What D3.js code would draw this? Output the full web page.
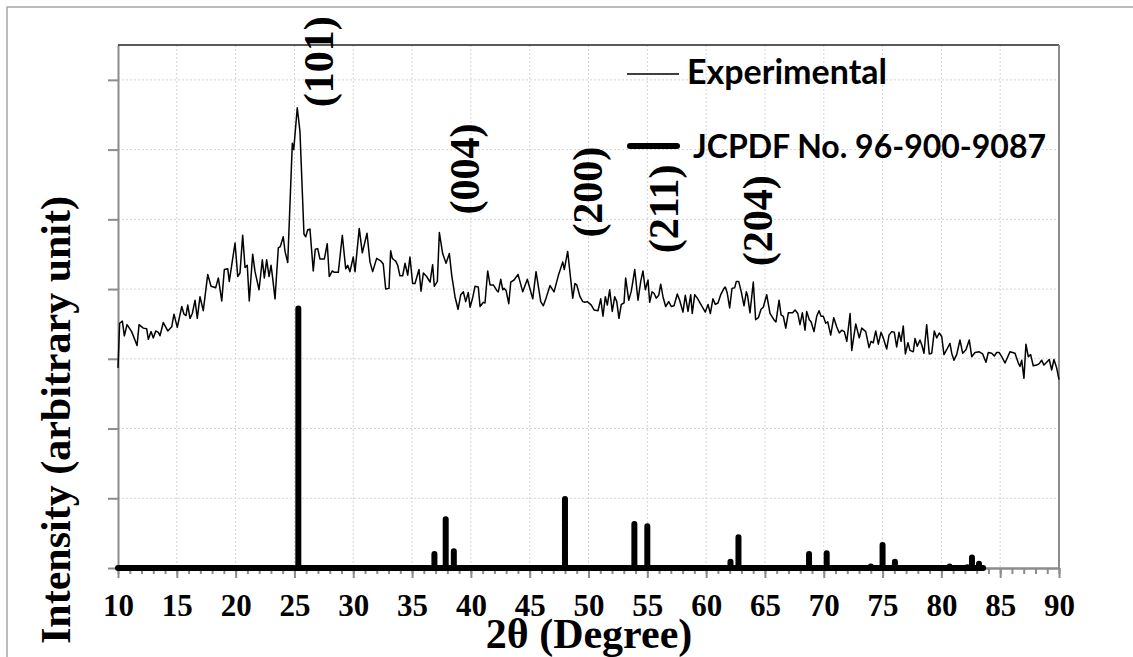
<!DOCTYPE html>
<html lang="en">
<head>
  <meta charset="UTF-8">
  <title>XRD pattern</title>
  <script src="https://d3js.org/d3.v7.min.js"></script>
  <style>
    body { margin: 0; background: #fff; }
    .grid line { stroke: #d4d4d4; stroke-width: 1; stroke-dasharray: 2,2; }
    .axis path, .axis line { stroke: #8c8c8c; stroke-width: 2; }
  </style>
</head>
<body>
  <svg width="1133" height="657"></svg>

  <script>
    // experimental pattern, [2θ, intensity]
    const experimental = [
      [10.00,2.87],[10.14,3.51],[10.37,3.54],[10.54,3.33],[10.77,3.49],[11.16,3.39],[11.62,3.19],[11.79,3.49],[12.15,3.44],[12.44,3.43],[12.58,3.28],[12.81,3.39],[13.00,3.30],[13.21,3.40],[13.43,3.38],[13.57,3.33],[13.85,3.52],[14.23,3.40],[14.57,3.46],[14.76,3.64],[15.04,3.45],[15.42,3.75],[15.61,3.64],[15.78,3.62],[15.93,3.77],[16.12,3.58],[16.32,3.65],[16.55,3.84],[16.74,3.58],[16.97,3.89],[17.25,3.69],[17.63,4.21],[17.91,4.04],[18.31,4.02],[18.53,4.16],[18.82,3.83],[19.04,4.28],[19.33,4.29],[19.46,4.11],[19.95,4.66],[20.18,4.18],[20.37,4.23],[20.60,4.77],[20.80,4.31],[20.99,4.34],[21.16,3.83],[21.45,4.50],[21.65,4.25],[21.99,3.99],[22.27,4.42],[22.44,4.16],[22.64,4.42],[22.84,4.18],[23.01,4.34],[23.12,4.20],[23.35,3.86],
      [23.63,4.59],[23.80,4.61],[24.05,4.75],[24.20,4.54],[24.43,4.38],[24.82,6.09],[24.94,6.00],[25.24,6.60],[25.47,6.26],[25.81,4.79],[25.96,4.75],[26.13,4.85],[26.32,4.86],[26.60,4.26],[26.77,4.57],[26.98,4.58],[27.17,4.43],[27.54,4.43],[27.79,4.65],[27.96,4.18],[28.22,4.26],[28.39,4.24],[28.73,4.24],[29.07,4.77],[29.36,4.29],[29.53,4.34],[29.72,4.25],[30.00,4.46],[30.15,4.25],[30.51,4.87],[30.77,4.52],[31.17,4.80],[31.42,4.39],[31.65,4.25],[31.99,4.44],[32.36,4.40],[32.55,4.36],[32.76,4.00],[33.04,4.01],[33.18,4.55],[33.32,4.44],[33.46,4.42],[33.61,4.40],[33.78,4.34],[33.97,4.19],[34.20,4.19],[34.40,4.37],[34.63,4.20],[34.82,4.46],[35.05,4.08],[35.25,4.08],[35.59,4.28],[35.76,3.97],[35.96,4.23],[36.24,4.18],[36.53,4.10],[36.75,4.35],[36.89,4.04],
      [37.15,4.11],[37.32,4.81],[37.60,4.51],[37.89,4.37],[38.17,4.51],[38.37,4.20],[38.65,3.89],[38.91,3.71],[39.14,3.92],[39.36,3.96],[39.56,3.82],[39.78,3.95],[39.93,3.74],[40.16,3.88],[40.35,4.04],[40.63,4.03],[40.78,3.75],[41.06,3.81],[41.20,3.80],[41.43,4.26],[41.63,4.06],[41.91,4.06],[42.20,3.98],[42.33,3.96],[42.54,4.14],[42.71,3.99],[42.82,4.01],[42.99,3.98],[43.22,3.79],[43.39,4.10],[43.67,4.13],[44.01,4.21],[44.41,3.96],[44.80,4.14],[45.26,3.86],[45.54,4.25],[45.94,3.82],[46.16,3.76],[46.39,3.87],[46.73,4.05],[47.07,3.96],[47.43,4.19],[47.81,4.39],[47.94,4.28],[48.23,4.54],[48.66,3.87],[48.85,4.08],[49.00,4.06],[49.28,3.89],[49.51,3.82],[49.70,3.81],[49.90,3.82],
      [50.24,3.77],[50.47,3.70],[50.81,3.69],[51.04,3.86],[51.23,3.61],[51.43,3.89],[51.60,3.77],[51.80,3.99],[52.02,3.68],[52.23,3.89],[52.40,3.82],[52.59,3.58],[52.79,3.78],[53.02,3.80],[53.16,4.16],[53.42,3.84],[53.64,3.97],[53.93,4.28],[54.21,3.84],[54.44,4.11],[54.63,4.26],[54.83,3.99],[55.06,4.13],[55.20,3.81],[55.40,3.96],[55.57,3.94],[55.76,3.87],[55.97,3.91],[56.14,4.07],[56.33,3.89],[56.56,3.75],[56.82,3.82],[57.04,3.75],[57.27,3.76],[57.55,3.93],[57.75,3.84],[58.03,3.67],[58.23,3.91],[58.46,3.68],[58.69,3.92],[58.82,3.65],[59.03,3.92],[59.25,3.87],[59.59,3.77],[59.93,3.67],[60.16,3.78],[60.36,3.65],[60.58,3.86],[60.78,3.78],[61.01,3.80],[61.24,3.92],[61.52,4.01],[61.63,4.03],[61.80,3.94],[62.00,3.73],[62.20,4.01],[62.43,4.02],[62.57,4.11],[62.77,4.11],[62.99,3.96],[63.22,3.76],[63.42,3.96],
      [63.53,3.90],[63.73,3.66],[64.01,4.10],[64.21,3.56],[64.44,3.59],[64.67,3.71],[64.86,3.74],[65.15,3.92],[65.43,3.65],[65.80,3.55],[65.94,3.53],[66.20,3.84],[66.37,3.63],[66.56,3.61],[66.77,3.44],[66.99,3.66],[67.36,3.66],[67.56,3.70],[67.79,3.65],[67.98,3.49],[68.18,3.66],[68.41,3.41],[68.55,3.68],[68.77,3.56],[68.92,3.53],[69.17,3.39],[69.40,3.61],[69.60,3.69],[69.77,3.61],[69.96,3.61],[70.17,3.51],[70.34,3.53],[70.59,3.34],[70.85,3.59],[71.10,3.46],[71.32,3.37],[71.53,3.41],[71.75,3.39],[71.96,3.25],[72.24,3.65],[72.38,3.12],[72.72,3.50],[73.02,3.30],[73.23,3.44],[73.57,3.39],[73.85,3.16],[74.02,3.25],[74.21,3.23],[74.42,3.40],[74.64,3.21],[74.87,3.38],[75.06,3.30],[75.35,3.14],[75.55,3.34],[75.78,3.39],[76.00,3.38],[76.20,3.17],[76.40,3.38],[76.57,3.25],[76.76,3.47],
      [76.94,3.07],[77.16,3.23],[77.33,3.12],[77.61,3.10],[77.76,3.29],[77.95,3.18],[78.18,3.27],[78.35,3.19],[78.52,3.08],[78.75,3.49],[78.97,3.07],[79.18,3.08],[79.40,3.40],[79.60,3.30],[79.82,3.37],[80.03,3.32],[80.22,3.06],[80.45,3.13],[80.73,3.22],[80.88,3.08],[81.07,2.98],[81.30,3.06],[81.58,3.27],[81.81,3.08],[82.09,3.13],[82.37,3.27],[82.58,3.03],[82.86,3.09],[83.22,3.10],[83.51,3.07],[83.79,2.95],[83.99,3.09],[84.28,3.08],[84.50,3.04],[84.70,3.09],[84.92,3.09],[85.13,3.03],[85.41,2.94],[85.83,3.10],[86.26,3.08],[86.54,2.94],[86.68,2.89],[86.83,2.98],[87.02,2.72],[87.19,3.21],[87.39,3.03],[87.59,3.06],[87.81,2.90],[88.10,2.91],[88.32,2.93],[88.53,2.98],[88.72,2.91],[88.95,2.95],[89.17,2.99],[89.38,2.84],[89.57,2.99],[89.80,2.87],[90.00,2.70]
    ];

    // JCPDF reference sticks
    const refTheta = [25.33, 36.9, 37.86, 38.55, 48.0, 53.9, 55.0, 62.07, 62.75, 68.75, 70.25, 74.0, 75.0, 76.05, 80.7, 82.2, 82.6, 83.2];
    const refIntensity = [3.72, 0.20, 0.70, 0.24, 0.99, 0.63, 0.60, 0.09, 0.44, 0.20, 0.21, 0.02, 0.33, 0.09, 0.02, 0.01, 0.15, 0.06];
    const refRange = [10, 83.55];

    const peakLabels = ['(101)', '(004)', '(200)', '(211)', '(204)'];
    const labelPos = [[28.28, 7.26], [40.69, 5.72], [51.15, 5.39], [57.61, 5.15], [65.6, 4.98]];

    const xTicks = d3.range(10, 91, 5);
    const xMinor = d3.range(10, 91, 1);
    const yTicks = d3.range(0, 8, 1);

    const SERIF = '"Liberation Serif", "Times New Roman", serif';
    const SANS = 'Lato, "Open Sans", sans-serif';

    const margin = { top: 45, right: 74, bottom: 89, left: 118 };
    const width = 1133 - margin.left - margin.right;
    const height = 657 - margin.top - margin.bottom;

    const svg = d3.select('svg');

    // outer frame
    svg.append('rect')
      .attr('x', 7).attr('y', 7)
      .attr('width', 1140).attr('height', 700)
      .attr('fill', 'none')
      .attr('stroke', '#a6a6a6')
      .attr('stroke-width', 1.5);

    const g = svg.append('g')
      .attr('transform', `translate(${margin.left}, ${margin.top})`);

    const x = d3.scaleLinear().domain([10, 90]).range([0, width]);
    const y = d3.scaleLinear().domain([0, 7.5]).range([height, 0]);

    // grid
    g.append('g').attr('class', 'grid')
      .selectAll('line')
      .data(xTicks.slice(1, -1))
      .enter().append('line')
      .attr('x1', d => x(d)).attr('x2', d => x(d))
      .attr('y1', 0).attr('y2', height);

    g.append('g').attr('class', 'grid')
      .selectAll('line')
      .data(yTicks.slice(1))
      .enter().append('line')
      .attr('x1', 0).attr('x2', width)
      .attr('y1', d => y(d)).attr('y2', d => y(d));

    // minor x ticks
    g.append('g')
      .attr('class', 'axis')
      .attr('transform', `translate(0, ${height})`)
      .call(d3.axisBottom(x).tickValues(xMinor).tickSize(6).tickSizeOuter(0).tickFormat(''))
      .call(s => s.selectAll('line').attr('stroke-width', 1.5));

    // major x ticks with labels
    g.append('g')
      .attr('class', 'axis')
      .attr('transform', `translate(0, ${height})`)
      .call(d3.axisBottom(x).tickValues(xTicks).tickSize(10).tickSizeOuter(0).tickFormat(d3.format('d')))
      .call(s => s.selectAll('text')
        .attr('y', 48).attr('dy', null)
        .attr('fill', '#000')
        .style('font-family', SERIF)
        .style('font-weight', 'bold')
        .style('font-size', '31px'));

    g.append('g')
      .attr('class', 'axis')
      .call(d3.axisLeft(y).tickValues(yTicks).tickSize(10).tickSizeOuter(0).tickFormat(''));

    // top and right borders
    g.append('line')
      .attr('x1', 0).attr('x2', width).attr('y1', 0).attr('y2', 0)
      .attr('stroke', '#222').attr('stroke-width', 1.5);
    g.append('line')
      .attr('x1', width).attr('x2', width).attr('y1', 0).attr('y2', height)
      .attr('stroke', '#8c8c8c').attr('stroke-width', 2);

    // experimental curve
    const line = d3.line().x(d => x(d[0])).y(d => y(d[1]));
    g.append('path')
      .datum(experimental)
      .attr('d', line)
      .attr('fill', 'none')
      .attr('stroke', '#000')
      .attr('stroke-width', 1.5)
      .attr('stroke-linejoin', 'round');

    // reference sticks drawn as one thick line along the baseline
    const refPts = [[refRange[0], 0]];
    refTheta.forEach((t, i) => {
      refPts.push([t, 0], [t, refIntensity[i]], [t, 0]);
    });
    refPts.push([refRange[1], 0]);

    g.append('path')
      .datum(refPts)
      .attr('d', line)
      .attr('fill', 'none')
      .attr('stroke', '#000')
      .attr('stroke-width', 6)
      .attr('stroke-linejoin', 'round')
      .attr('stroke-linecap', 'round');

    // plane labels
    g.selectAll('.plane')
      .data(peakLabels)
      .enter().append('text')
      .attr('class', 'plane')
      .attr('transform', (d, i) => `translate(${x(labelPos[i][0])}, ${y(labelPos[i][1])}) rotate(-90)`)
      .attr('text-anchor', 'middle')
      .style('font-family', SERIF)
      .style('font-weight', 'bold')
      .style('font-size', '42px')
      .text(d => d);

    // axis titles
    svg.append('text')
      .attr('transform', 'translate(70, 420) rotate(-90)')
      .attr('text-anchor', 'middle')
      .style('font-family', SERIF)
      .style('font-weight', 'bold')
      .style('font-size', '42px')
      .text('Intensity (arbitrary unit)');

    svg.append('text')
      .attr('x', 589).attr('y', 648)
      .attr('text-anchor', 'middle')
      .style('font-family', SERIF)
      .style('font-weight', 'bold')
      .style('font-size', '42px')
      .text('2θ (Degree)');

    // legend
    const legend = svg.append('g')
      .style('font-family', SANS)
      .style('font-weight', 'bold');
    legend.append('line')
      .attr('x1', 627).attr('x2', 679).attr('y1', 74).attr('y2', 74)
      .attr('stroke', '#000').attr('stroke-width', 1.5);
    legend.append('text')
      .attr('x', 687).attr('y', 84)
      .style('font-size', '34px')
      .text('Experimental');
    legend.append('line')
      .attr('x1', 630).attr('x2', 677).attr('y1', 146).attr('y2', 146)
      .attr('stroke', '#000').attr('stroke-width', 6)
      .attr('stroke-linecap', 'round');
    legend.append('text')
      .attr('x', 693).attr('y', 158)
      .style('font-size', '32px')
      .text('JCPDF No. 96-900-9087');
  </script>
</body>
</html>
